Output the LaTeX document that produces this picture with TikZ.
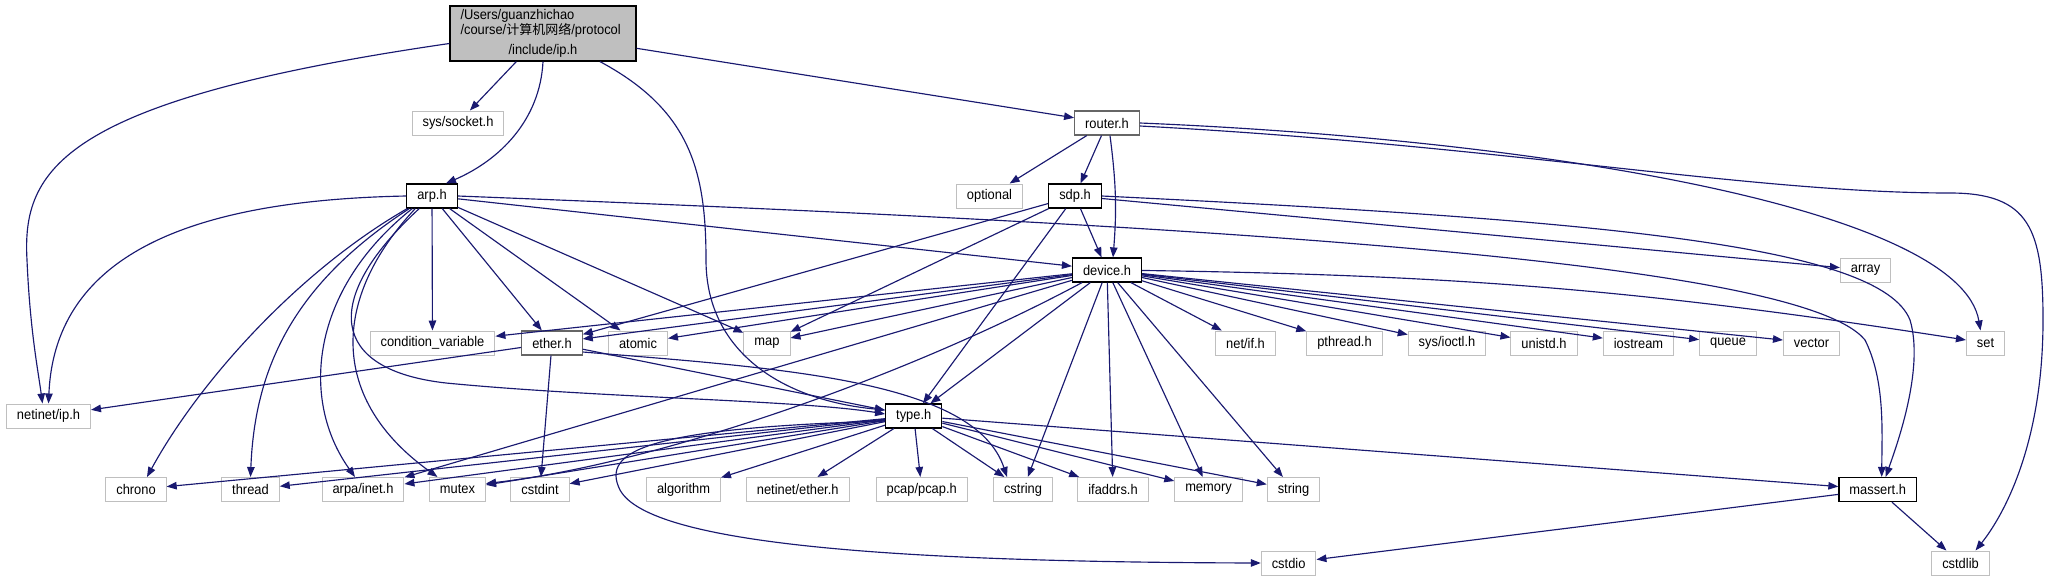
\documentclass[tikz,border=0pt]{standalone}
\usepackage{fontspec}
\setmainfont{Liberation Sans}[FakeStretch=0.92]
\newfontfamily\cjk{Noto Sans CJK SC}
\usetikzlibrary{arrows.meta}
\definecolor{midblue}{RGB}{25,25,112}
\definecolor{grey75}{RGB}{191,191,191}
\definecolor{grey40}{RGB}{102,102,102}

\begin{document}
\begin{tikzpicture}[x=1pt,y=-1pt,
  box/.style={rectangle,draw,fill=white,line width=1.2pt,minimum height=24pt,inner xsep=10.5pt,inner ysep=0pt,font=\fontsize{14}{16}\selectfont},
  inc/.style={box,draw=black},
  und/.style={box,draw=grey40},
  ext/.style={box,draw=grey75,line width=1pt},
  dep/.style={draw=midblue,line width=1.15pt,-{Triangle[length=10pt,width=7.5pt]}}]
    \useasboundingbox (0,0) rectangle (2049,581);
    \node[box,draw=black,fill=grey75,minimum height=55pt,text width=165pt,align=left,font=\fontsize{14}{12.5}\selectfont] (root) at (543,33.5)
        {/Users/guanzhichao\\/course/{\cjk\fontsize{13}{12.5}\selectfont 计算机网络}/protocol\\[6pt]\hfill/include/ip.h\hfill\null};
    \node[ext] (sock) at (458,123) {sys/socket.h};
    \node[und] (router) at (1107,123) {router.h};
    \node[inc] (arp) at (432,196) {arp.h};
    \node[ext] (opt) at (989.5,196) {optional};
    \node[inc] (sdp) at (1075,196) {sdp.h};
    \node[inc] (dev) at (1107,270) {device.h};
    \node[ext] (array) at (1865.5,270) {array};
    \node[und] (ether) at (552,343) {ether.h};
    \foreach \n/\x/\t in {cv/432.5/condition\_variable,atomic/638/atomic,map/767/map,netif/1245.5/{net/if.h},
        pthread/1344.5/pthread.h,ioctl/1447/{sys/ioctl.h},unistd/1544/unistd.h,iostream/1638.5/iostream,
        queue/1728/queue,vector/1811.5/vector,set/1985.5/set} {
        \node[ext] (\n) at (\x,343) {\t};
    }
    \node[ext] (nip) at (48.5,416) {netinet/ip.h};
    \node[inc] (type) at (913.7,416) {type.h};
    \foreach \n/\x/\t in {chrono/136/chrono,thread/250.5/thread,arpa/363/{arpa/inet.h},mutex/457.5/mutex,
        cstdint/540/cstdint,algo/683.5/algorithm,nether/797.7/{netinet/ether.h},pcap/921.7/{pcap/pcap.h},
        cstring/1023/cstring,ifaddrs/1113/ifaddrs.h,memory/1208.5/memory,string/1293.5/string} {
        \node[ext] (\n) at (\x,489.5) {\t};
    }
    \node[inc] (massert) at (1877.7,489.5) {massert.h};
    \node[ext] (cstdio) at (1288.6,563) {cstdio};
    \node[ext] (cstdlib) at (1960.5,563) {cstdlib};

    \foreach \i/\j in {root/sock,root/router,router/opt,router/sdp,
        sdp/dev,sdp/ether,sdp/map,sdp/type,sdp/array,
        arp/cv,arp/ether,arp/atomic,arp/map,arp/dev,
        ether/nip,ether/cstdint,ether/type,
        dev/cv,dev/ether,dev/atomic,dev/map,dev/netif,dev/pthread,dev/ioctl,dev/unistd,dev/iostream,
        dev/queue,dev/vector,dev/type,dev/cstring,dev/ifaddrs,dev/memory,dev/string,dev/arpa,
        type/chrono,type/thread,type/arpa,type/mutex,type/cstdint,type/algo,type/nether,type/pcap,
        type/cstring,type/ifaddrs,type/memory,type/string,type/massert,
        massert/cstdio,massert/cstdlib} {
        \draw[dep] (\i) -- (\j);
    }
    \draw[dep] ([xshift=3pt]router.south) to[bend left=6] ([xshift=6pt]dev.north);
    \draw[dep] (dev) to[bend left=4] (set);
    % long splines
    \draw[dep] ([yshift=-10pt]root.west) .. controls (60,100) and (22,170) .. (27,260)
        .. controls (30,330) and (38,370) .. ([xshift=-6pt]nip.north);
    \draw[dep] (root.south) .. controls (540,120) and (500,160) .. ([xshift=14pt]arp.north);
    \draw[dep] ([xshift=57pt]root.south) .. controls (690,110) and (706,170) .. (706,260)
        .. controls (706,350) and (780,400) .. ([yshift=6pt]type.west);
    \draw[dep] (router.east) .. controls (1550,140) and (1960,210) .. ([xshift=-5pt]set.north);
    \draw[dep] ([yshift=-3pt]router.east) .. controls (1500,145) and (1750,193) .. (1950,193)
        .. controls (2030,193) and (2043,230) .. (2043,320)
        .. controls (2043,450) and (2000,520) .. ([xshift=15pt]cstdlib.north);
    \draw[dep] (sdp.east) .. controls (1600,220) and (1880,245) .. (1910,320)
        .. controls (1925,370) and (1895,450) .. ([xshift=8pt]massert.north);
    \draw[dep] (arp.east) .. controls (1200,225) and (1800,260) .. (1865,340)
        .. controls (1885,380) and (1882,430) .. ([xshift=4pt]massert.north);
    \draw[dep] (arp.west) .. controls (200,200) and (55,250) .. (nip.north);
    \draw[dep] ([xshift=1pt]arp.south west) .. controls (300,270) and (200,380) .. ([xshift=11pt]chrono.north);
    \draw[dep] ([xshift=3pt]arp.south west) .. controls (300,280) and (255,360) .. (thread.north);
    \draw[dep] ([xshift=6pt]arp.south west) .. controls (310,290) and (300,400) .. ([xshift=-8pt]arpa.north);
    \draw[dep] ([xshift=9pt]arp.south west) .. controls (330,300) and (330,400) .. ([xshift=-20pt]mutex.north);
    \draw[dep] ([xshift=13pt]arp.south west) .. controls (320,300) and (330,370) .. (446,383)
        .. controls (600,398) and (800,400) .. ([yshift=2pt]type.west);
    \draw[dep] ([yshift=-9pt]ether.east) .. controls (780,368) and (975,380) .. ([xshift=-16pt]cstring.north);
    \draw[dep] ([xshift=-25pt]dev.south) .. controls (900,380) and (650,465) .. ([yshift=6pt]mutex.east);
    \draw[dep] ([yshift=-5pt]type.west) .. controls (650,428) and (600,450) .. (620,490)
        .. controls (650,545) and (900,562) .. (cstdio.west);
\end{tikzpicture}
\end{document}
